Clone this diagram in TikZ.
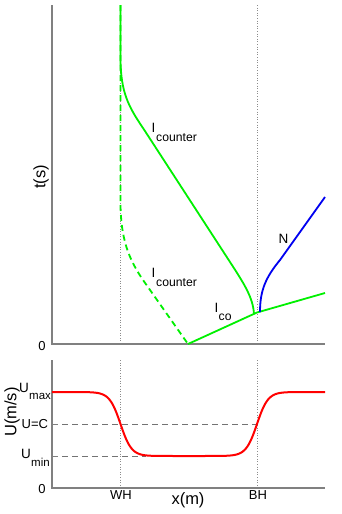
\documentclass[tikz,border=0pt]{standalone}
\usepackage{fontspec}
\setmainfont{Liberation Sans}
\begin{document}
\begin{tikzpicture}[x=1pt,y=-1pt,
  axis/.style={draw=black!50,line width=1.1pt},
  guide/.style={draw=black!45,line width=0.7pt,dash pattern=on 1pt off 1.6pt},
  level/.style={draw=black!55,line width=1pt,dash pattern=on 6pt off 4pt},
  tickmark/.style={draw=black!50,line width=0.8pt},
  gline/.style={draw={rgb,255:red,0;green,240;blue,0},line width=1.8pt},
  bline/.style={draw={rgb,255:red,0;green,0;blue,240},line width=1.8pt},
  rline/.style={draw={rgb,255:red,255;green,0;blue,0},line width=2pt},
  ticklab/.style={font=\fontsize{13}{15}\selectfont,inner sep=0pt},
  sublab/.style={font=\fontsize{12.2}{14}\selectfont,inner sep=0pt,anchor=base west},
  usub/.style={font=\fontsize{11.5}{13}\selectfont,inner sep=0pt,anchor=base west},
  mainlab/.style={font=\fontsize{13.5}{15}\selectfont,inner sep=0pt,anchor=base west},
  axlab/.style={font=\fontsize{16.5}{18}\selectfont,inner sep=0pt},
  declare function={clampt(\t)=tanh(max(-6,min(6,\t)));}]
\useasboundingbox (0,0) rectangle (342,514);
\fill[white] (0,0) rectangle (342,514);

% ---------- top plot ----------
\coordinate (tO) at (52,344);
\coordinate (tTop) at (52,5);
\coordinate (tRight) at (325,344);
\coordinate (wTop) at (120.5,5);
\coordinate (wBot) at (120.5,344);
\coordinate (bTop) at (257,5);
\coordinate (bBot) at (257,344);
\draw[guide] (wTop) -- (wBot);
\draw[guide] (bTop) -- (bBot);
\draw[axis] (tTop) -- (tO) -- (tRight);

% dashed counter characteristic
\coordinate (d0) at (120.5,5);
\coordinate (d1) at (120.5,205);
\coordinate (d2) at (143,280);
\coordinate (foot) at (188,344);
\draw[gline,dash pattern=on 6pt off 4pt] (d0) -- (d1) .. controls (121,238) and (128,258) .. (d2) -- (foot);

% solid counter characteristic
\coordinate (s1) at (120.5,60);
\coordinate (s2) at (143,128);
\coordinate (s3) at (230,262);
\coordinate (s4) at (254,314);
\draw[gline] (d0) -- (s1) .. controls (121,92) and (128,106) .. (s2) -- (s3) .. controls (245,285) and (253,298) .. (s4);

% co characteristic
\coordinate (meet) at (257,312.5);
\coordinate (coEnd) at (325,293);
\draw[gline] (foot) -- (meet) -- (coEnd);

% N
\coordinate (n0) at (260,312);
\coordinate (n1) at (280,260);
\coordinate (n2) at (325,197);
\draw[bline] (n0) .. controls (260,290) and (266,277) .. (n1) -- (n2);

% labels top
\node[mainlab] (lc1) at (151.5,132) {I};
\node[sublab] (lc1s) at (156,141) {counter};
\node[mainlab] (lc2) at (151.5,277) {I};
\node[sublab] (lc2s) at (156,286) {counter};
\node[mainlab] (lco) at (214.5,312) {I};
\node[sublab] (lcos) at (218.5,320.5) {co};
\node[mainlab] (lN) at (278.5,243) {N};
\node[ticklab] (z1) at (42,346) {0};
\node[axlab,rotate=90] (ts) at (41,177) {t(s)};

% ---------- bottom plot ----------
\coordinate (bO) at (52,488);
\coordinate (bAxTop) at (52,360);
\coordinate (bAxRight) at (325,488);
\coordinate (wT2) at (120.5,360);
\coordinate (wB2) at (120.5,488);
\coordinate (bT2) at (257,360);
\coordinate (bB2) at (257,488);
\draw[guide] (wT2) -- (wB2);
\draw[guide] (bT2) -- (bB2);
\coordinate (cL) at (52,424);
\coordinate (cR) at (257,424);
\coordinate (mL) at (52,456);
\coordinate (mR) at (146,456);
\draw[level] (cL) -- (cR);
\draw[level] (mL) -- (mR);
\draw[axis] (bAxTop) -- (bO) -- (bAxRight);
\draw[tickmark] (52,392) -- (58,392);
\draw[tickmark] (52,424) -- (58,424);
\draw[tickmark] (52,456) -- (58,456);

\draw[rline] plot[domain=52:325,samples=240,smooth] (\x,{392+32*(clampt((\x-120.5)/11)-clampt((\x-257)/11))});

% labels bottom
\node[mainlab] (umx) at (19,392) {U};
\node[usub] (umxs) at (29,399.5) {max};
\node[ticklab,anchor=west] (uc) at (21.5,424) {U=C};
\node[mainlab] (umn) at (21,458) {U};
\node[usub] (umns) at (31,466.5) {min};
\node[ticklab] (z2) at (42,489) {0};
\node[ticklab] (wh) at (121,495) {WH};
\node[ticklab] (bh) at (258,495) {BH};
\node[axlab] (xm) at (188,500) {x(m)};
\node[axlab,rotate=90] (um) at (12,412) {U(m/s)};
\end{tikzpicture}
\end{document}
